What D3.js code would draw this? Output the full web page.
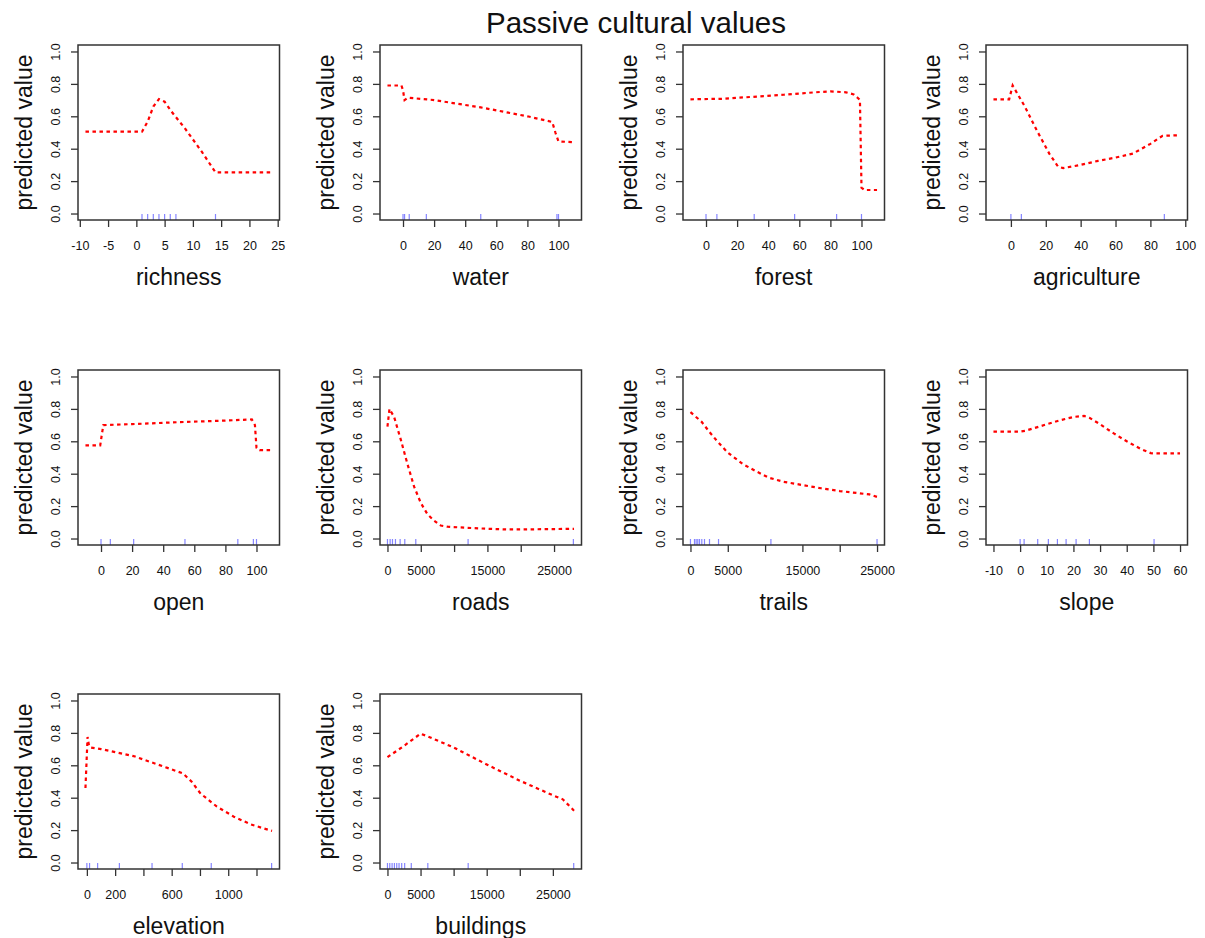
<!DOCTYPE html>
<html>
<head>
<meta charset="utf-8">
<script src="https://cdn.jsdelivr.net/npm/d3@7"></script>
<style>
  body { margin: 0; background: #fff; }
  text { font-family: "Liberation Sans", Arial, sans-serif; fill: #111; }
</style>
</head>
<body>
<script>
// chart texts
const title = "Passive cultural values";
const yTitle = "predicted value";
const variables = ["richness", "water", "forest", "agriculture", "open", "roads", "trails", "slope", "elevation", "buildings"];

// partial dependence curves (x values / predicted value)
const lineX = [
  [-9, 1, 2, 3, 4, 5, 6.2, 8.6, 11.6, 14, 24],
  [-10, -1, 0, 1, 3, 20, 50, 80, 96, 98, 100, 110],
  [-10, 10, 30, 50, 70, 80, 90, 95, 98, 99, 100, 102, 110],
  [-10, -1, 1, 8, 15, 22, 27, 30, 40, 50, 60, 70, 80, 87, 97],
  [-10, -0.5, 0.5, 1.5, 20, 50, 80, 97, 99, 100, 102, 110],
  [0, 300, 1000, 2000, 3000, 4000, 5000, 6000, 7000, 8000, 9000, 12000, 15000, 18000, 22000, 28000],
  [0, 1500, 2500, 3500, 5000, 7000, 9000, 10500, 12500, 15000, 17500, 20000, 22500, 24000, 25000],
  [-10, 0, 2, 5, 10, 15, 20, 24, 26, 30, 35, 40, 45, 49, 50, 60],
  [-10, 5, 15, 25, 100, 330, 570, 680, 740, 805, 920, 1040, 1160, 1310],
  [0, 2500, 5000, 6000, 10000, 15000, 20000, 25000, 26500, 28200]
];
const lineY = [
  [0.505, 0.505, 0.567, 0.66, 0.706, 0.69, 0.63, 0.525, 0.38, 0.254, 0.254],
  [0.79, 0.79, 0.76, 0.70, 0.715, 0.70, 0.655, 0.60, 0.565, 0.50, 0.445, 0.44],
  [0.705, 0.708, 0.72, 0.733, 0.748, 0.754, 0.748, 0.735, 0.71, 0.70, 0.16, 0.145, 0.145],
  [0.705, 0.705, 0.79, 0.66, 0.51, 0.37, 0.29, 0.28, 0.30, 0.325, 0.345, 0.37, 0.43, 0.48, 0.483],
  [0.575, 0.575, 0.64, 0.70, 0.706, 0.718, 0.728, 0.735, 0.70, 0.56, 0.545, 0.545],
  [0.69, 0.80, 0.75, 0.61, 0.46, 0.32, 0.22, 0.15, 0.11, 0.08, 0.073, 0.066, 0.06, 0.056, 0.057, 0.06],
  [0.78, 0.72, 0.66, 0.605, 0.53, 0.46, 0.41, 0.375, 0.35, 0.33, 0.31, 0.293, 0.28, 0.272, 0.257],
  [0.66, 0.66, 0.665, 0.68, 0.705, 0.73, 0.75, 0.757, 0.745, 0.705, 0.65, 0.60, 0.555, 0.527, 0.525, 0.525],
  [0.46, 0.775, 0.72, 0.71, 0.70, 0.657, 0.584, 0.55, 0.50, 0.425, 0.345, 0.283, 0.235, 0.195],
  [0.65, 0.72, 0.795, 0.78, 0.71, 0.605, 0.505, 0.415, 0.39, 0.32]
];

// rug (observed values)
const rugValues = [
  [1, 2, 3, 4, 5, 6, 7, 14],
  [0, 1, 4, 15, 50, 99, 100],
  [0, 7, 31, 57, 84, 100],
  [0, 6, 88],
  [0, 6, 21, 54, 88, 98, 100],
  [0, 400, 750, 1200, 1900, 2600, 4250, 12100, 27900],
  [0, 540, 760, 980, 1210, 1520, 1880, 2550, 3760, 10780, 25000],
  [0, 1.5, 6.6, 10.6, 14, 17.25, 21, 26, 50.25],
  [0, 19, 76, 230, 461, 675, 880, 1307],
  [0, 350, 700, 1050, 1400, 1750, 2150, 2600, 3600, 6100, 12200, 28150]
];

// axis ticks
const xTicks = [
  [-10, -5, 0, 5, 10, 15, 20, 25],
  [0, 20, 40, 60, 80, 100],
  [0, 20, 40, 60, 80, 100],
  [0, 20, 40, 60, 80, 100],
  [0, 20, 40, 60, 80, 100],
  [0, 5000, 10000, 15000, 20000, 25000],
  [0, 5000, 10000, 15000, 20000, 25000],
  [-10, 0, 10, 20, 30, 40, 50, 60],
  [0, 200, 400, 600, 800, 1000, 1200],
  [0, 5000, 10000, 15000, 20000, 25000]
];
const xTickLabels = [
  ["-10", "-5", "0", "5", "10", "15", "20", "25"],
  ["0", "20", "40", "60", "80", "100"],
  ["0", "20", "40", "60", "80", "100"],
  ["0", "20", "40", "60", "80", "100"],
  ["0", "20", "40", "60", "80", "100"],
  ["0", "5000", "", "15000", "", "25000"],
  ["0", "5000", "", "15000", "", "25000"],
  ["-10", "0", "10", "20", "30", "40", "50", "60"],
  ["0", "200", "", "600", "", "1000", ""],
  ["0", "5000", "", "15000", "", "25000"]
];
const yTicks = [0, 0.2, 0.4, 0.6, 0.8, 1.0];
const yTickLabels = ["0.0", "0.2", "0.4", "0.6", "0.8", "1.0"];

// layout
const width = 1205, height = 938;
const colLeft = [78, 380, 683, 986];
const rowTop = [45, 370, 694];
const boxW = 201.5, boxH = 175;

const svg = d3.select("body").append("svg")
  .attr("width", width).attr("height", height);

svg.append("text")
  .attr("x", 636).attr("y", 33)
  .attr("text-anchor", "middle")
  .style("font-size", "29.5px")
  .text(title);

variables.forEach(function(name, i) {
  const left = colLeft[i % 4];
  const top = rowTop[Math.floor(i / 4)];

  // R style 4% range extension
  const ext = d3.extent(lineX[i]);
  const pad = (ext[1] - ext[0]) * 0.04;
  const xScale = d3.scaleLinear().domain([ext[0] - pad, ext[1] + pad]).range([0, boxW]);
  const yScale = d3.scaleLinear().domain([-0.04, 1.04]).range([boxH, 0]);

  const g = svg.append("g").attr("transform", "translate(" + left + "," + top + ")");

  // x axis
  const xAxis = g.append("g")
    .attr("transform", "translate(0," + boxH + ")")
    .call(d3.axisBottom(xScale)
      .tickValues(xTicks[i])
      .tickFormat(function(d, j) { return xTickLabels[i][j]; })
      .tickSize(7).tickSizeOuter(0).tickPadding(14));
  xAxis.select(".domain").remove();
  xAxis.selectAll("line").attr("stroke", "#333").attr("stroke-width", 1.3);
  xAxis.selectAll("text").style("font-size", "12.5px").attr("fill", "#111");

  // y axis (labels parallel to axis)
  const yAxis = g.append("g")
    .call(d3.axisLeft(yScale).tickValues(yTicks)
      .tickFormat(function(d, j) { return yTickLabels[j]; })
      .tickSize(7).tickSizeOuter(0));
  yAxis.select(".domain").remove();
  yAxis.selectAll("line").attr("stroke", "#333").attr("stroke-width", 1.3);
  yAxis.selectAll("text")
    .attr("x", null).attr("dy", null)
    .attr("text-anchor", "middle")
    .attr("transform", "translate(-18,0) rotate(-90)")
    .style("font-size", "12.5px").attr("fill", "#111");

  // rug
  g.selectAll(".rug")
    .data(rugValues[i])
    .enter().append("line")
    .attr("x1", function(d) { return xScale(d); })
    .attr("x2", function(d) { return xScale(d); })
    .attr("y1", boxH)
    .attr("y2", boxH - 6)
    .attr("stroke", "#3333ff")
    .attr("stroke-opacity", 0.6)
    .attr("stroke-width", 1.2);

  // curve
  const pts = lineX[i].map(function(x, j) { return [x, lineY[i][j]]; });
  g.append("path")
    .datum(pts)
    .attr("fill", "none")
    .attr("stroke", "#ff0000")
    .attr("stroke-width", 2.2)
    .attr("stroke-dasharray", "3.5,3.5")
    .attr("d", d3.line()
      .x(function(d) { return xScale(d[0]); })
      .y(function(d) { return yScale(d[1]); }));

  // box
  g.append("rect")
    .attr("width", boxW).attr("height", boxH)
    .attr("fill", "none")
    .attr("stroke", "#333")
    .attr("stroke-width", 1.5);

  // axis titles
  g.append("text")
    .attr("x", boxW / 2).attr("y", boxH + 65)
    .attr("text-anchor", "middle")
    .style("font-size", "23px")
    .text(name);

  g.append("text")
    .attr("transform", "translate(-46," + (boxH / 2) + ") rotate(-90)")
    .attr("text-anchor", "middle")
    .style("font-size", "23px")
    .text(yTitle);
});
</script>
</body>
</html>
